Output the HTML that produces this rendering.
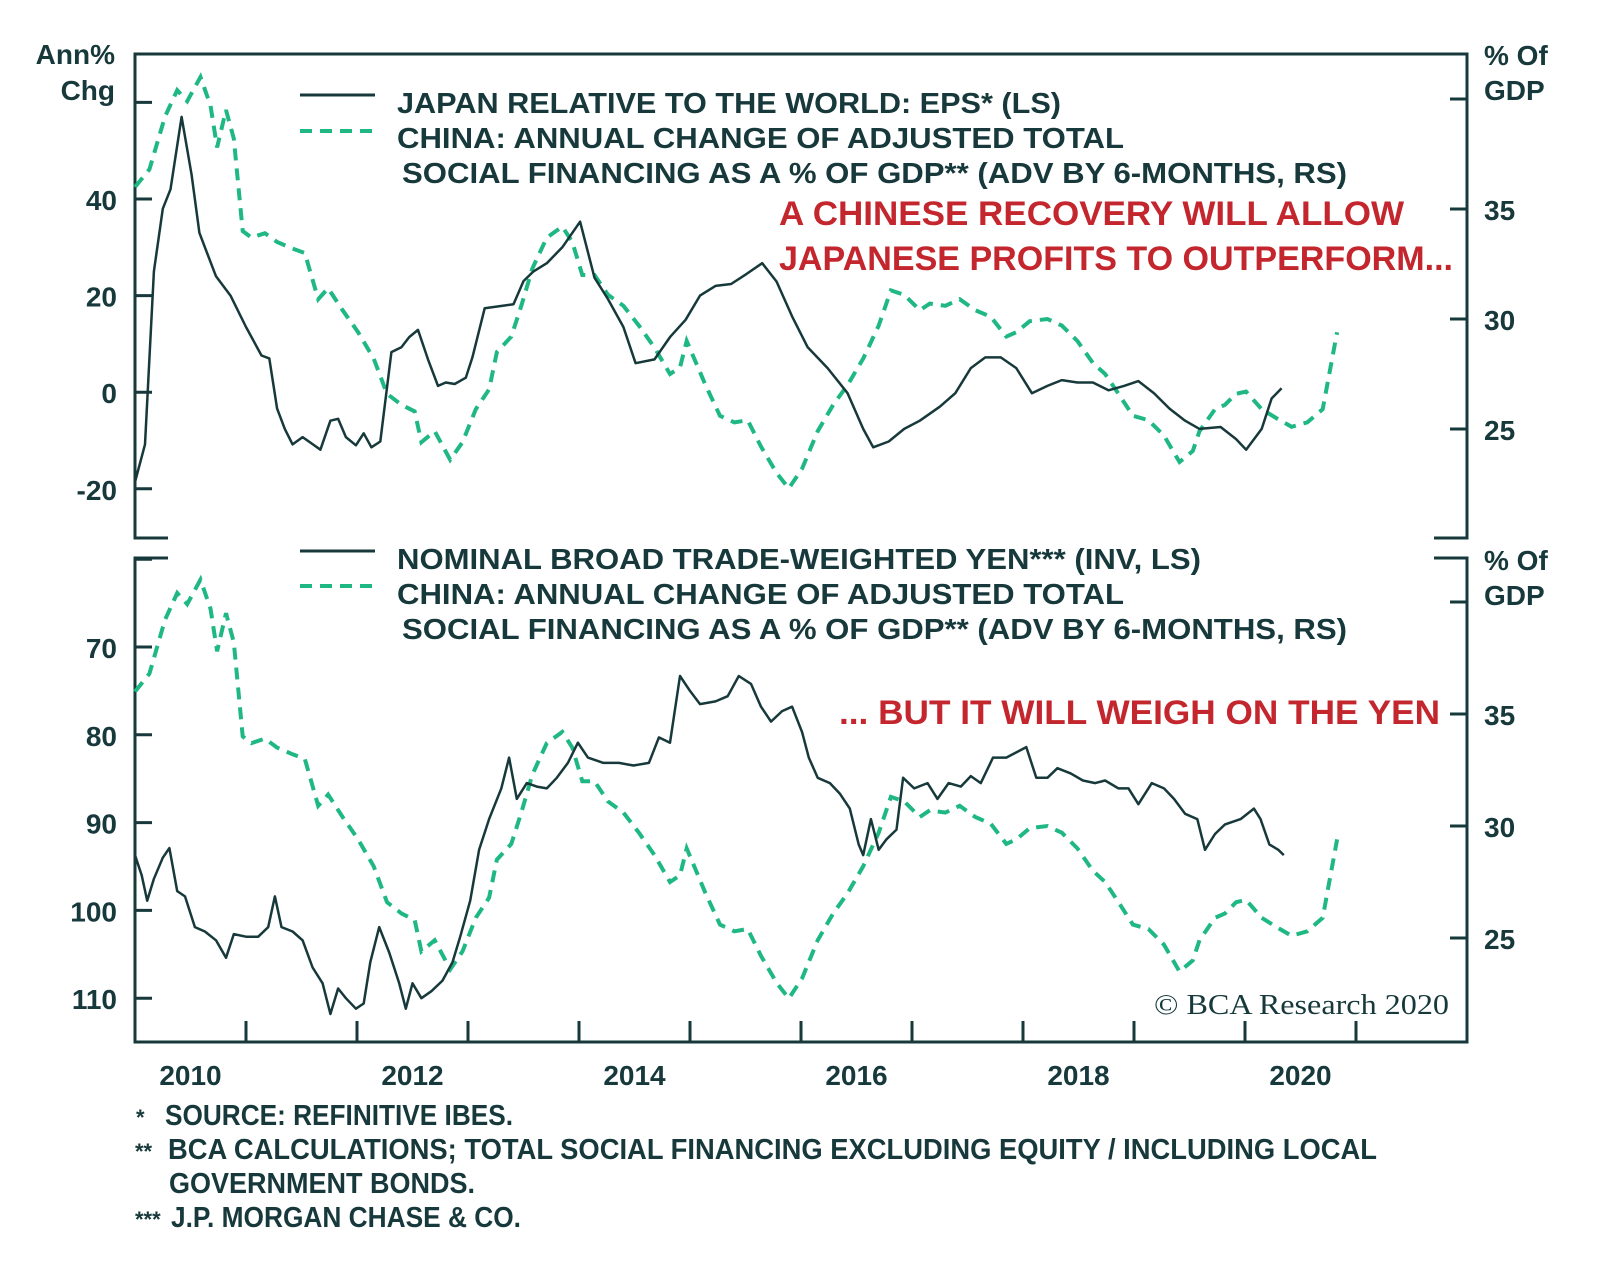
<!DOCTYPE html>
<html><head><meta charset="utf-8"><style>
html,body{margin:0;padding:0;background:#fff;}
svg{display:block;font-family:"Liberation Sans",sans-serif;}
.t{fill:#17393b;font-weight:bold;}
.r{fill:#c4262e;font-weight:bold;}
</style></head><body>
<svg id="chart" width="1600" height="1286" viewBox="0 0 1600 1286" xmlns="http://www.w3.org/2000/svg">
<g id="frame"></g>
<g id="series"></g>
<g id="labels">
  <text class="t" x="115" y="64" font-size="28" text-anchor="end">Ann%</text>
  <text class="t" x="115" y="100" font-size="28" text-anchor="end">Chg</text>
  <text class="t" x="1484" y="65" font-size="28">% Of</text>
  <text class="t" x="1484" y="100" font-size="28">GDP</text>
  <text class="t" x="1484" y="570" font-size="28">% Of</text>
  <text class="t" x="1484" y="605" font-size="28">GDP</text>

  <line x1="300" y1="95" x2="375" y2="95" stroke="#17393b" stroke-width="3"/>
  <line x1="300" y1="131" x2="375" y2="131" stroke="#1fb883" stroke-width="4" stroke-dasharray="12,8"/>
  <text class="t" x="397" y="113" font-size="29" textLength="664" lengthAdjust="spacingAndGlyphs">JAPAN RELATIVE TO THE WORLD: EPS* (LS)</text>
  <text class="t" x="397" y="148" font-size="29" textLength="727" lengthAdjust="spacingAndGlyphs">CHINA: ANNUAL CHANGE OF ADJUSTED TOTAL</text>
  <text class="t" x="402" y="183" font-size="29" textLength="945" lengthAdjust="spacingAndGlyphs">SOCIAL FINANCING AS A % OF GDP** (ADV BY  6-MONTHS, RS)</text>
  <text class="r" x="779" y="225" font-size="34" textLength="625" lengthAdjust="spacingAndGlyphs">A CHINESE RECOVERY WILL ALLOW</text>
  <text class="r" x="779" y="270" font-size="34" textLength="674" lengthAdjust="spacingAndGlyphs">JAPANESE PROFITS TO OUTPERFORM...</text>

  <line x1="300" y1="551" x2="375" y2="551" stroke="#17393b" stroke-width="3"/>
  <line x1="300" y1="586" x2="375" y2="586" stroke="#1fb883" stroke-width="4" stroke-dasharray="12,8"/>
  <text class="t" x="397" y="569" font-size="29" textLength="804" lengthAdjust="spacingAndGlyphs">NOMINAL BROAD TRADE-WEIGHTED YEN*** (INV, LS)</text>
  <text class="t" x="397" y="604" font-size="29" textLength="727" lengthAdjust="spacingAndGlyphs">CHINA: ANNUAL CHANGE OF ADJUSTED TOTAL</text>
  <text class="t" x="402" y="639" font-size="29" textLength="945" lengthAdjust="spacingAndGlyphs">SOCIAL FINANCING AS A % OF GDP** (ADV BY  6-MONTHS, RS)</text>
  <text class="r" x="839" y="724" font-size="34" textLength="601" lengthAdjust="spacingAndGlyphs">... BUT IT WILL WEIGH ON THE YEN</text>

  <text x="1154" y="1014" font-size="28" fill="#17393b" font-family="Liberation Serif, serif" textLength="295" lengthAdjust="spacingAndGlyphs">© BCA Research 2020</text>

  <text class="t" x="136" y="1125" font-size="22">*</text>
  <text class="t" x="165" y="1125" font-size="29" textLength="348" lengthAdjust="spacingAndGlyphs">SOURCE: REFINITIVE IBES.</text>
  <text class="t" x="135" y="1159" font-size="22">**</text>
  <text class="t" x="168" y="1159" font-size="29" textLength="1209" lengthAdjust="spacingAndGlyphs">BCA CALCULATIONS; TOTAL SOCIAL FINANCING EXCLUDING EQUITY / INCLUDING LOCAL</text>
  <text class="t" x="169" y="1193" font-size="29" textLength="306" lengthAdjust="spacingAndGlyphs">GOVERNMENT BONDS.</text>
  <text class="t" x="135" y="1227" font-size="22">***</text>
  <text class="t" x="171" y="1227" font-size="29" textLength="350" lengthAdjust="spacingAndGlyphs">J.P. MORGAN CHASE &amp; CO.</text>
</g>
</svg>
<script>
// ---- data ----
const epsDates=[2010.00,2010.09,2010.17,2010.25,2010.32,2010.42,2010.51,2010.58,2010.63,2010.73,2010.86,2011.00,2011.14,2011.21,2011.28,2011.35,2011.42,2011.51,2011.59,2011.67,2011.76,2011.83,2011.90,2011.99,2012.06,2012.13,2012.21,2012.31,2012.40,2012.47,2012.55,2012.64,2012.73,2012.80,2012.88,2012.98,2013.04,2013.15,2013.28,2013.41,2013.50,2013.59,2013.71,2013.85,2014.01,2014.14,2014.26,2014.40,2014.51,2014.68,2014.82,2014.96,2015.09,2015.23,2015.37,2015.51,2015.65,2015.78,2015.92,2016.06,2016.24,2016.42,2016.56,2016.65,2016.79,2016.93,2017.07,2017.25,2017.39,2017.53,2017.66,2017.80,2017.94,2018.08,2018.22,2018.35,2018.49,2018.63,2018.77,2018.91,2019.04,2019.18,2019.32,2019.46,2019.59,2019.78,2019.92,2020.01,2020.15,2020.24,2020.33];
const epsValues=[-18.6,-10.8,25,38,42,57,45,33,30,24,20,13.5,7.6,7,-3.4,-7.6,-10.8,-9.3,-10.6,-11.9,-5.9,-5.5,-9.3,-11,-8.5,-11.4,-10.2,8.3,9.3,11.4,12.9,6.8,1.3,2,1.7,3,7.2,17.4,17.8,18.2,23,25,26.7,30,35.3,23.7,19.3,13.5,6,6.8,11.4,15,20,22,22.4,24.5,26.7,22.9,15.7,9.3,5,-0.2,-7.6,-11.4,-10.2,-7.6,-5.9,-3,-0.2,5,7.2,7.2,5,-0.2,1.3,2.5,2,2,0.4,1.3,2.3,-0.2,-3.4,-5.9,-7.6,-7.2,-9.7,-11.9,-7.6,-1.3,0.8];
const tsfDates=[2010.00,2010.13,2010.27,2010.38,2010.47,2010.59,2010.68,2010.74,2010.82,2010.89,2010.97,2011.05,2011.17,2011.28,2011.42,2011.53,2011.65,2011.74,2011.87,2012.01,2012.15,2012.27,2012.40,2012.52,2012.58,2012.70,2012.84,2012.95,2013.07,2013.19,2013.26,2013.39,2013.48,2013.58,2013.71,2013.85,2013.94,2014.03,2014.14,2014.26,2014.40,2014.54,2014.68,2014.82,2014.91,2014.97,2015.14,2015.27,2015.40,2015.52,2015.64,2015.78,2015.89,2016.01,2016.15,2016.29,2016.42,2016.56,2016.70,2016.81,2016.93,2017.07,2017.16,2017.30,2017.43,2017.57,2017.71,2017.85,2017.94,2018.06,2018.22,2018.35,2018.49,2018.63,2018.74,2018.86,2018.99,2019.13,2019.27,2019.41,2019.53,2019.59,2019.73,2019.82,2019.92,2020.01,2020.15,2020.28,2020.42,2020.56,2020.70,2020.77,2020.83];
const tsfValues=[36,36.8,39.2,40.4,39.9,41,39.7,37.8,39.5,38.2,34,33.7,33.9,33.5,33.2,33,30.9,31.4,30.4,29.4,28.2,26.6,26.1,25.8,24.4,24.9,23.6,24.4,25.9,26.8,28.5,29.2,30.6,32.3,33.7,34.2,33.5,32,32,31.1,30.6,29.7,28.7,27.5,27.8,29,27,25.6,25.3,25.4,24.2,23,22.3,23.2,24.9,26.1,27,28.2,29.7,31.3,31.1,30.4,30.7,30.6,30.9,30.4,30.1,29.2,29.4,29.9,30,29.7,29,28,27.5,26.6,25.6,25.4,24.7,23.5,24,24.9,25.9,26.1,26.6,26.7,25.9,25.5,25.1,25.3,25.9,27.8,29.4];
const yenDates=[2010.00,2010.06,2010.11,2010.17,2010.25,2010.31,2010.38,2010.45,2010.54,2010.63,2010.73,2010.82,2010.89,2011.00,2011.11,2011.20,2011.26,2011.32,2011.42,2011.51,2011.60,2011.69,2011.76,2011.83,2011.90,2011.99,2012.06,2012.12,2012.20,2012.29,2012.38,2012.44,2012.50,2012.58,2012.67,2012.77,2012.86,2012.93,2013.02,2013.10,2013.19,2013.30,2013.37,2013.44,2013.53,2013.62,2013.71,2013.80,2013.90,2013.99,2014.08,2014.22,2014.36,2014.49,2014.63,2014.72,2014.82,2014.91,2015.00,2015.09,2015.23,2015.34,2015.44,2015.55,2015.64,2015.73,2015.83,2015.92,2016.01,2016.07,2016.15,2016.26,2016.35,2016.44,2016.52,2016.56,2016.63,2016.70,2016.77,2016.86,2016.92,2017.02,2017.14,2017.23,2017.33,2017.44,2017.53,2017.62,2017.73,2017.85,2017.94,2018.03,2018.12,2018.22,2018.31,2018.43,2018.54,2018.65,2018.74,2018.86,2018.95,2019.04,2019.16,2019.27,2019.36,2019.46,2019.57,2019.64,2019.73,2019.82,2019.96,2020.08,2020.14,2020.22,2020.30,2020.35];
const yenValues=[93.7,96,98.9,96.4,94,92.9,97.8,98.4,101.9,102.4,103.4,105.4,102.7,103,103,101.9,98.4,101.9,102.4,103.4,106.5,108.3,111.8,108.9,110,111.2,110.6,105.9,101.9,104.8,108.3,111.2,108.3,110,109.2,108,105.9,103,98.9,93.1,89.6,86.1,82.6,87.3,85.5,85.9,86.1,84.9,83.2,80.9,82.6,83.2,83.2,83.5,83.2,80.3,80.9,73.3,75,76.5,76.2,75.6,73.3,74.2,76.8,78.5,77.3,76.8,79.7,82.6,84.9,85.5,86.7,88.4,92.5,93.7,89.6,93.1,91.9,90.8,84.9,86.1,85.5,87.3,85.5,85.9,84.7,85.5,82.6,82.6,82,81.4,84.9,84.9,83.8,84.4,85.2,85.5,85.2,86.1,86.1,87.9,85.5,86.1,87.3,89,89.6,93.1,91.3,90.2,89.6,88.4,89.6,92.5,93.1,93.7];
const yearLabels=[2010,2012,2014,2016,2018,2020];
const topLeftTicks=[60,40,20,0,-20];
const topLeftLabels=[40,20,0,-20];
const rightTicks=[40,35,30,25];
const rightLabels=[35,30,25];
const botLeftTicks=[60,70,80,90,100,110];
const botLeftLabels=[70,80,90,100,110];

// ---- scales ----
const X0=135,X1=1467,T0=2010,PXY=(X1-X0)/12;
const x=t=>X0+(t-T0)*PXY;
const yTL=v=>199-(v-40)*4.83;
const yTR=v=>209+(35-v)*22;
const yBL=v=>647+(v-70)*8.78;
const yBR=v=>714+(35-v)*22.4;
const TOP=54,TB=538,BT=558,BOT=1042;
const NS="http://www.w3.org/2000/svg";
const frame=document.getElementById('frame'),series=document.getElementById('series'),labels=document.getElementById('labels');
const C="#17393b";
function mk(tag,attrs,parent){const e=document.createElementNS(NS,tag);for(const k in attrs)e.setAttribute(k,attrs[k]);parent.appendChild(e);return e;}
function ln(x1,y1,x2,y2,p,w){return mk('line',{x1,y1,x2,y2,stroke:C,'stroke-width':w||3},p);}
function txt(s,xx,yy,anchor,p){const e=mk('text',{x:xx,y:yy,'text-anchor':anchor,'font-size':28,class:'t'},p);e.textContent=s;return e;}

// frame
let e;
e=mk('path',{d:`M${X0+33},${TB} H${X0} V${TOP} H${X1} V${TB} H${X1-33}`,fill:'none',stroke:C,'stroke-width':3},frame);


e=mk('path',{d:`M${X0+33},${BT} H${X0} V${BOT} H${X1} V${BT} H${X1-33}`,fill:'none',stroke:C,'stroke-width':3},frame);


topLeftTicks.forEach(v=>{e=ln(X0,yTL(v),X0+17,yTL(v),frame);

});
topLeftLabels.forEach(v=>{e=txt(String(v),117,yTL(v)+11,'end',labels);

});
rightTicks.forEach(v=>{e=ln(X1-17,yTR(v),X1,yTR(v),frame);


e=ln(X1-17,yBR(v),X1,yBR(v),frame);

});
rightLabels.forEach(v=>{e=txt(String(v),1484,yTR(v)+11,'start',labels);


e=txt(String(v),1484,yBR(v)+11,'start',labels);

});
botLeftTicks.forEach(v=>{e=ln(X0,yBL(v),X0+17,yBL(v),frame);

});
botLeftLabels.forEach(v=>{e=txt(String(v),117,yBL(v)+11,'end',labels);

});
for(let yr=2011;yr<2022;yr++){e=ln(x(yr),BOT-21,x(yr),BOT,frame);

}
yearLabels.forEach(yr=>{e=txt(String(yr),x(yr+0.5),1085,'middle',labels);

});

// series
function path(dates,vals,ys){return dates.map((d,i)=>(i?'L':'M')+x(d).toFixed(1)+','+ys(vals[i]).toFixed(1)).join(' ');}
e=mk('path',{d:path(tsfDates,tsfValues,yTR),fill:'none',stroke:'#1fb883','stroke-width':4,'stroke-dasharray':'12,8'},series);


e=mk('path',{d:path(epsDates,epsValues,yTL),fill:'none',stroke:C,'stroke-width':2.5,'stroke-linejoin':'round'},series);


e=mk('path',{d:path(tsfDates,tsfValues,yBR),fill:'none',stroke:'#1fb883','stroke-width':4,'stroke-dasharray':'12,8'},series);


e=mk('path',{d:path(yenDates,yenValues,yBL),fill:'none',stroke:C,'stroke-width':2.5,'stroke-linejoin':'round'},series);


</script>
</body></html>
